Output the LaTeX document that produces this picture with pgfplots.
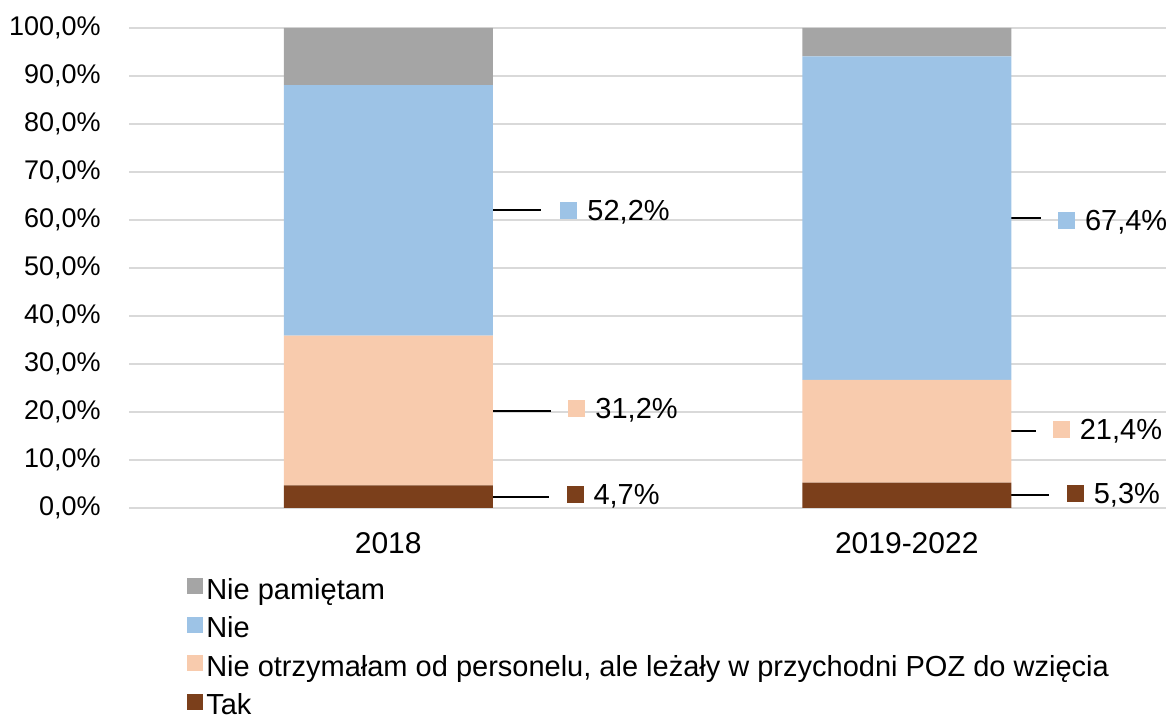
\documentclass[border=0pt]{standalone}
\usepackage{pgfplots}
\pgfplotsset{compat=1.18}
\usepackage{fontspec}
\setmainfont{Liberation Sans}
\definecolor{cgrey}{HTML}{A5A5A5}
\definecolor{cblue}{HTML}{9DC3E6}
\definecolor{cpeach}{HTML}{F8CBAD}
\definecolor{cbrown}{HTML}{7B3F1B}
\definecolor{gridc}{HTML}{D9D9D9}
\newcommand{\sq}[1]{\textcolor{#1}{\rule[0.5pt]{8.5pt}{8.5pt}}\hspace{5pt}}
\begin{document}
\begin{tikzpicture}
\path[use as bounding box] (0,0) rectangle (585pt,358pt);
\begin{axis}[
  at={(64.5pt,104pt)}, anchor=south west,
  scale only axis, width=518.5pt, height=240pt,
  xmin=-0.5, xmax=1.5, ymin=0, ymax=100,
  ybar stacked, bar width=104.5pt,
  axis line style={draw=none}, tick style={draw=none},
  font=\fontsize{14.5}{17}\selectfont,
  ytick={0,10,20,30,40,50,60,70,80,90,100},
  yticklabels={{0,0\%},{10,0\%},{20,0\%},{30,0\%},{40,0\%},{50,0\%},{60,0\%},{70,0\%},{80,0\%},{90,0\%},{100,0\%}},
  yticklabel style={inner sep=0pt, xshift=-14pt, font=\fontsize{13.5}{16}\selectfont},
  xtick={0,1}, xticklabels={2018,2019-2022},
  xticklabel style={inner sep=0pt, yshift=-12pt, font=\fontsize{15}{18}\selectfont},
  ymajorgrids, grid style={color=gridc, line width=0.75pt},
  legend image code/.code={\fill[#1] (0pt,-2pt) rectangle (8pt,6pt);},
  reverse legend,
  legend style={at={(0.05,-0.131)}, anchor=north west, draw=none, fill=none,
    font=\fontsize{14.5}{17}\selectfont, row sep=4.2pt,
    nodes={inner sep=1.5pt}},
  legend cell align=left,
]
\addplot[fill=cbrown, draw=none] coordinates {(0,4.7) (1,5.3)};
\addlegendentry{Tak}
\addplot[fill=cpeach, draw=none] coordinates {(0,31.2) (1,21.4)};
\addlegendentry{Nie otrzymałam od personelu, ale leżały w przychodni POZ do wzięcia}
\addplot[fill=cblue, draw=none] coordinates {(0,52.2) (1,67.4)};
\addlegendentry{Nie}
\addplot[fill=cgrey, draw=none] coordinates {(0,11.9) (1,5.9)};
\addlegendentry{Nie pamiętam}

\draw[black, line width=1pt] (axis cs:0.2023,62.0) -- (axis cs:0.2948,62.0);
\draw[black, line width=1pt] (axis cs:0.2023,20.3) -- (axis cs:0.314,20.3);
\draw[black, line width=1pt] (axis cs:0.2023,2.35) -- (axis cs:0.310,2.35);
\draw[black, line width=1pt] (axis cs:1.2004,60.4) -- (axis cs:1.258,60.4);
\draw[black, line width=1pt] (axis cs:1.2004,16.0) -- (axis cs:1.2486,16.0);
\draw[black, line width=1pt] (axis cs:1.2004,2.65) -- (axis cs:1.2736,2.65);

\node[anchor=west, inner sep=0pt] at (axis cs:0.3314,61.7) {\sq{cblue}52,2\%};
\node[anchor=west, inner sep=0pt] at (axis cs:0.3468,20.4) {\sq{cpeach}31,2\%};
\node[anchor=west, inner sep=0pt] at (axis cs:0.343,2.5) {\sq{cbrown}4,7\%};
\node[anchor=west, inner sep=0pt] at (axis cs:1.291,59.6) {\sq{cblue}67,4\%};
\node[anchor=west, inner sep=0pt] at (axis cs:1.281,16.0) {\sq{cpeach}21,4\%};
\node[anchor=west, inner sep=0pt] at (axis cs:1.308,2.7) {\sq{cbrown}5,3\%};
\end{axis}
\end{tikzpicture}
\end{document}
